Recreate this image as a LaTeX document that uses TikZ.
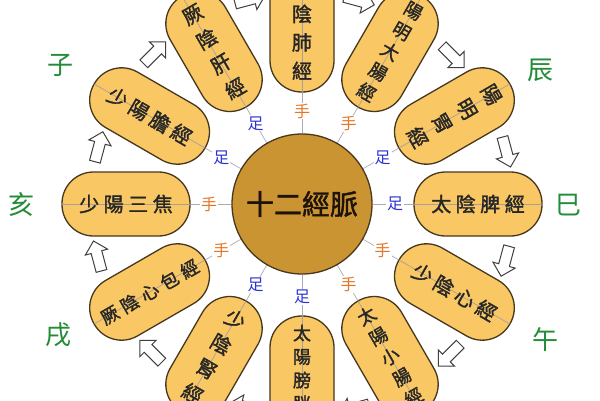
\documentclass[tikz,border=0pt]{standalone}
\usepackage{fontspec}
\newfontfamily\cjk{Noto Sans CJK TC}
\newfontfamily\cjkb{Noto Sans CJK TC}[FakeBold=1.6]
\usetikzlibrary{shapes.arrows}
\definecolor{capfill}{RGB}{249,199,100}
\definecolor{capline}{RGB}{70,55,30}
\definecolor{ctrfill}{RGB}{203,148,50}
\definecolor{handc}{RGB}{228,118,40}
\definecolor{footc}{RGB}{45,50,215}
\definecolor{branchc}{RGB}{35,140,55}
\definecolor{spokec}{RGB}{150,150,165}
\tikzset{
  capsule/.style={draw=capline, line width=1.3pt, fill=capfill, minimum width=128pt, minimum height=64pt, rounded corners=31.5pt, inner sep=0pt},
  spoke/.style={draw=spokec, line width=0.7pt, opacity=0.8},
  vfour/.style={font=\cjkb\fontsize{20}{28.5}\selectfont, align=center, inner sep=0pt, text=black!85},
  vfive/.style={font=\cjkb\fontsize{18}{23.5}\selectfont, align=center, inner sep=0pt, text=black!85},
  htext/.style={font=\cjkb\fontsize{20}{24}\selectfont, inner sep=0pt, text=black!85},
  hfive/.style={font=\cjkb\fontsize{18}{22}\selectfont, inner sep=0pt, text=black!85},
  handlab/.style={font=\cjk\fontsize{16}{16}\selectfont, text=handc, fill=white, inner sep=1pt},
  footlab/.style={font=\cjk\fontsize{16}{16}\selectfont, text=footc, fill=white, inner sep=1pt},
  flowarrow/.style={single arrow, draw=black!75, fill=white, line width=1pt, minimum height=31pt, inner sep=5pt, single arrow head extend=6pt},
  branch/.style={font=\cjk\fontsize{26}{26}\selectfont, text=branchc}
}
\begin{document}
\begin{tikzpicture}[x=1pt,y=1pt]
\useasboundingbox (0,0) rectangle (600,400);
\fill[white] (0,0) rectangle (600,400);
\clip (0,0) rectangle (600,400);
\begin{scope}[shift={(302,196)}]
  % centre
  \node[circle, draw=capline, line width=1.3pt, fill=ctrfill, minimum size=140pt, font=\cjkb\fontsize{28}{28}\selectfont, text=black!85!brown] (ctr) at (0,0) {十二經脈};
  % capsules
  \foreach \a [count=\i] in {90,60,30,0,-30,-60,-90,-120,-150,180,150,120}
    \node[capsule, rotate=\a] (cap\i) at (\a:176) {};
  % spokes
  \foreach \i in {1,...,12}
    \draw[spoke] (ctr) -- (cap\i.east);
  % hand / foot labels
  \foreach \a/\s/\t [count=\i] in {90/handlab/手,60/handlab/手,30/footlab/足,0/footlab/足,-30/handlab/手,-60/handlab/手,-90/footlab/足,-120/footlab/足,-150/handlab/手,180/handlab/手,150/footlab/足,120/footlab/足}
    \node[\s] (lab\i) at (\a:93) {\t};
  % capsule texts
  \node[vfour, rotate=0]   (txt1)  at (90:176)   {太\\陰\\肺\\經};
  \node[vfive, rotate=-30] (txt2)  at (60:176)   {陽\\明\\大\\腸\\經};
  \node[vfour, rotate=-60] (txt3)  at (30:176)   {陽\\明\\胃\\經};
  \node[htext, rotate=0]   (txt4)  at (0:176)    {太\kern4.5pt 陰\kern4.5pt 脾\kern4.5pt 經};
  \node[htext, rotate=-30] (txt5)  at (-30:176)  {少\kern4.5pt 陰\kern4.5pt 心\kern4.5pt 經};
  \node[vfive, rotate=30]  (txt6)  at (-60:176)  {太\\陽\\小\\腸\\經};
  \node[vfive, rotate=0]   (txt7)  at (-90:176)  {太\\陽\\膀\\胱\\經};
  \node[vfour, rotate=-30] (txt8)  at (-120:176) {少\\陰\\腎\\經};
  \node[hfive, rotate=30]  (txt9)  at (-150:176) {厥\kern5pt 陰\kern5pt 心\kern5pt 包\kern5pt 經};
  \node[htext, rotate=0]   (txt10) at (180:176)  {少\kern4.5pt 陽\kern4.5pt 三\kern4.5pt 焦};
  \node[htext, rotate=-30] (txt11) at (150:176)  {少\kern4.5pt 陽\kern4.5pt 膽\kern4.5pt 經};
  \node[vfour, rotate=30]  (txt12) at (120:176)  {厥\\陰\\肝\\經};
  % flow arrows
  \foreach \a [count=\i] in {105,75,45,15,-15,-45,-75,-105,-135,-165,165,135}
    \node[flowarrow, rotate=\a-90] (arr\i) at (\a:211) {};
\end{scope}
% earthly branches
\node[branch] (bzi)   at (60,335)  {子};
\node[branch] (bchen) at (540,330) {辰};
\node[branch] (bhai)  at (22,195)  {亥};
\node[branch] (bsi)   at (568,195) {巳};
\node[branch] (bxu)   at (58,65)   {戌};
\node[branch] (bwu)   at (545,60)  {午};
\end{tikzpicture}
\end{document}
